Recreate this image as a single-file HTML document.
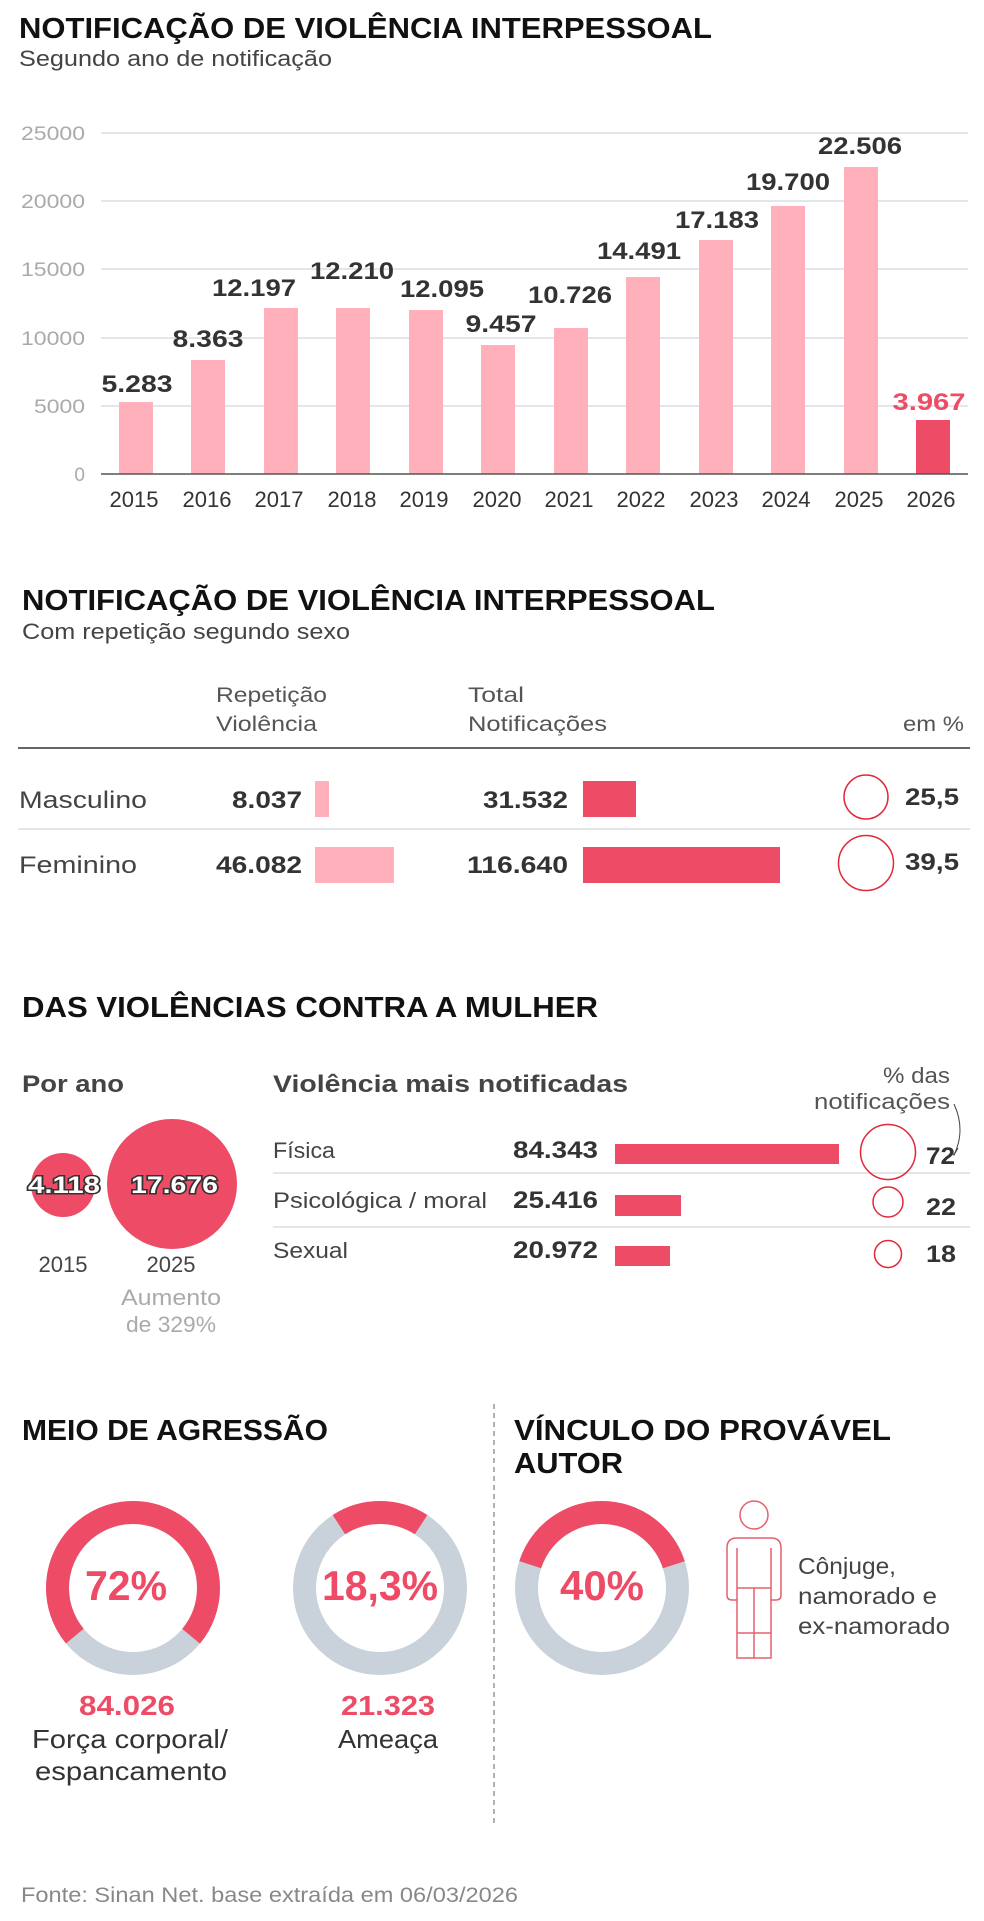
<!DOCTYPE html>
<html><head><meta charset="utf-8"><style>
html,body{margin:0;padding:0;background:#fff;}
svg{display:block;}
text{font-family:"Liberation Sans",sans-serif;}
.t{font-weight:bold;fill:#111;font-size:29px;}
.s{fill:#444;font-size:22px;}
.y{fill:#aaa;font-size:19px;text-anchor:end;}
.yr{fill:#333;font-size:22px;text-anchor:middle;}
.v{fill:#333;font-size:24px;font-weight:bold;text-anchor:middle;}
.b{fill:#333;font-weight:bold;font-size:24px;}
.r{fill:#444;font-size:24px;}
</style></head><body>
<svg width="984" height="1921" viewBox="0 0 984 1921" xmlns="http://www.w3.org/2000/svg">
<!-- Chart 1 -->
<text class="t" x="19" y="38" textLength="693" lengthAdjust="spacingAndGlyphs">NOTIFICAÇÃO DE VIOLÊNCIA INTERPESSOAL</text>
<text class="s" x="19" y="66" textLength="313" lengthAdjust="spacingAndGlyphs">Segundo ano de notificação</text>
<g stroke="#dcdfe3" stroke-width="1.5">
<line x1="101" y1="133" x2="968" y2="133"/><line x1="101" y1="201" x2="968" y2="201"/>
<line x1="101" y1="269" x2="968" y2="269"/><line x1="101" y1="338" x2="968" y2="338"/>
<line x1="101" y1="406" x2="968" y2="406"/>
</g>
<g>
<text class="y" x="85" y="140" textLength="64" lengthAdjust="spacingAndGlyphs">25000</text>
<text class="y" x="85" y="208" textLength="64" lengthAdjust="spacingAndGlyphs">20000</text>
<text class="y" x="85" y="276" textLength="64" lengthAdjust="spacingAndGlyphs">15000</text>
<text class="y" x="85" y="345" textLength="64" lengthAdjust="spacingAndGlyphs">10000</text>
<text class="y" x="85" y="413" textLength="51" lengthAdjust="spacingAndGlyphs">5000</text>
<text class="y" x="85" y="481">0</text>
</g>
<g fill="#ffb0bb">
<rect x="119" y="402" width="34" height="72"/>
<rect x="191" y="360" width="34" height="114"/>
<rect x="264" y="308" width="34" height="166"/>
<rect x="336" y="308" width="34" height="166"/>
<rect x="409" y="310" width="34" height="164"/>
<rect x="481" y="345" width="34" height="129"/>
<rect x="554" y="328" width="34" height="146"/>
<rect x="626" y="277" width="34" height="197"/>
<rect x="699" y="240" width="34" height="234"/>
<rect x="771" y="206" width="34" height="268"/>
<rect x="844" y="167" width="34" height="307"/>
</g>
<rect x="916" y="420" width="34" height="54" fill="#ee4b66"/>
<line x1="101" y1="474" x2="968" y2="474" stroke="#555" stroke-width="1.5"/>
<g>
<text class="v" x="137" y="392" textLength="71" lengthAdjust="spacingAndGlyphs">5.283</text>
<text class="v" x="208" y="347" textLength="71" lengthAdjust="spacingAndGlyphs">8.363</text>
<text class="v" x="254" y="296" textLength="84" lengthAdjust="spacingAndGlyphs">12.197</text>
<text class="v" x="352" y="279" textLength="84" lengthAdjust="spacingAndGlyphs">12.210</text>
<text class="v" x="442" y="297" textLength="84" lengthAdjust="spacingAndGlyphs">12.095</text>
<text class="v" x="501" y="332" textLength="71" lengthAdjust="spacingAndGlyphs">9.457</text>
<text class="v" x="570" y="303" textLength="84" lengthAdjust="spacingAndGlyphs">10.726</text>
<text class="v" x="639" y="259" textLength="84" lengthAdjust="spacingAndGlyphs">14.491</text>
<text class="v" x="717" y="228" textLength="84" lengthAdjust="spacingAndGlyphs">17.183</text>
<text class="v" x="788" y="190" textLength="84" lengthAdjust="spacingAndGlyphs">19.700</text>
<text class="v" x="860" y="154" textLength="84" lengthAdjust="spacingAndGlyphs">22.506</text>
<text class="v" x="929" y="410" textLength="73" lengthAdjust="spacingAndGlyphs" style="fill:#ee4b66">3.967</text>
</g>
<g>
<text class="yr" x="134" y="507">2015</text><text class="yr" x="207" y="507">2016</text>
<text class="yr" x="279" y="507">2017</text><text class="yr" x="352" y="507">2018</text>
<text class="yr" x="424" y="507">2019</text><text class="yr" x="497" y="507">2020</text>
<text class="yr" x="569" y="507">2021</text><text class="yr" x="641" y="507">2022</text>
<text class="yr" x="714" y="507">2023</text><text class="yr" x="786" y="507">2024</text>
<text class="yr" x="859" y="507">2025</text><text class="yr" x="931" y="507">2026</text>
</g>

<!-- Section 2 -->
<text class="t" x="22" y="610" textLength="693" lengthAdjust="spacingAndGlyphs">NOTIFICAÇÃO DE VIOLÊNCIA INTERPESSOAL</text>
<text class="s" x="22" y="639" textLength="328" lengthAdjust="spacingAndGlyphs">Com repetição segundo sexo</text>
<g class="s" style="font-size:21px;fill:#555">
<text x="216" y="702" textLength="111" lengthAdjust="spacingAndGlyphs">Repetição</text>
<text x="216" y="731" textLength="101" lengthAdjust="spacingAndGlyphs">Violência</text>
<text x="468" y="702" textLength="56" lengthAdjust="spacingAndGlyphs">Total</text>
<text x="468" y="731" textLength="139" lengthAdjust="spacingAndGlyphs">Notificações</text>
<text x="903" y="731" textLength="61" lengthAdjust="spacingAndGlyphs">em %</text>
</g>
<line x1="18" y1="748" x2="970" y2="748" stroke="#666" stroke-width="2"/>
<line x1="18" y1="829" x2="970" y2="829" stroke="#dcdfe3" stroke-width="1.5"/>
<text class="r" x="19" y="808" textLength="128" lengthAdjust="spacingAndGlyphs">Masculino</text>
<text class="b" x="232" y="808" textLength="70" lengthAdjust="spacingAndGlyphs">8.037</text>
<rect x="315" y="781" width="14" height="36" fill="#ffb0bb"/>
<text class="b" x="483" y="808" textLength="85" lengthAdjust="spacingAndGlyphs">31.532</text>
<rect x="583" y="781" width="53" height="36" fill="#ee4b66"/>
<circle cx="866" cy="797" r="22" fill="none" stroke="#e02a3a" stroke-width="1.5"/>
<text class="b" x="905" y="805" textLength="54" lengthAdjust="spacingAndGlyphs">25,5</text>
<text class="r" x="19" y="873" textLength="118" lengthAdjust="spacingAndGlyphs">Feminino</text>
<text class="b" x="216" y="873" textLength="86" lengthAdjust="spacingAndGlyphs">46.082</text>
<rect x="315" y="847" width="79" height="36" fill="#ffb0bb"/>
<text class="b" x="467" y="873" textLength="101" lengthAdjust="spacingAndGlyphs">116.640</text>
<rect x="583" y="847" width="197" height="36" fill="#ee4b66"/>
<circle cx="866" cy="863" r="27.5" fill="none" stroke="#e02a3a" stroke-width="1.5"/>
<text class="b" x="905" y="870" textLength="54" lengthAdjust="spacingAndGlyphs">39,5</text>

<!-- Section 3 -->
<text class="t" x="22" y="1017" textLength="576" lengthAdjust="spacingAndGlyphs">DAS VIOLÊNCIAS CONTRA A MULHER</text>
<text class="b" x="22" y="1092" textLength="102" lengthAdjust="spacingAndGlyphs" style="fill:#444">Por ano</text>
<text class="b" x="273" y="1092" textLength="355" lengthAdjust="spacingAndGlyphs" style="fill:#444">Violência mais notificadas</text>
<text class="s" x="883" y="1083" textLength="67" lengthAdjust="spacingAndGlyphs" style="fill:#555">% das</text>
<text class="s" x="814" y="1109" textLength="136" lengthAdjust="spacingAndGlyphs" style="fill:#555">notificações</text>
<path d="M954 1104 Q966 1130 954 1155" fill="none" stroke="#444" stroke-width="1"/>
<path d="M949 1149 L954 1155 L958 1148" fill="none" stroke="#444" stroke-width="1"/>
<circle cx="63" cy="1185" r="32" fill="#ee4b66"/>
<circle cx="172" cy="1184" r="65" fill="#ee4b66"/>
<g style="font-weight:bold;font-size:24px;fill:#fff;stroke:#333;stroke-width:3;paint-order:stroke;">
<text x="28" y="1193" textLength="72" lengthAdjust="spacingAndGlyphs">4.118</text>
<text x="131" y="1193" textLength="87" lengthAdjust="spacingAndGlyphs">17.676</text>
</g>
<text class="yr" x="63" y="1272" style="fill:#444">2015</text>
<text class="yr" x="171" y="1272" style="fill:#444">2025</text>
<text class="yr" x="171" y="1305" style="fill:#aaa" textLength="100" lengthAdjust="spacingAndGlyphs">Aumento</text>
<text class="yr" x="171" y="1332" style="fill:#aaa" textLength="90" lengthAdjust="spacingAndGlyphs">de 329%</text>
<line x1="273" y1="1173" x2="970" y2="1173" stroke="#dcdfe3" stroke-width="1.5"/>
<line x1="273" y1="1227" x2="970" y2="1227" stroke="#dcdfe3" stroke-width="1.5"/>
<g class="s" style="fill:#444">
<text x="273" y="1158" textLength="62" lengthAdjust="spacingAndGlyphs">Física</text>
<text x="273" y="1208" textLength="214" lengthAdjust="spacingAndGlyphs">Psicológica / moral</text>
<text x="273" y="1258" textLength="75" lengthAdjust="spacingAndGlyphs">Sexual</text>
</g>
<text class="b" x="513" y="1158" textLength="85" lengthAdjust="spacingAndGlyphs">84.343</text>
<text class="b" x="513" y="1208" textLength="85" lengthAdjust="spacingAndGlyphs">25.416</text>
<text class="b" x="513" y="1258" textLength="85" lengthAdjust="spacingAndGlyphs">20.972</text>
<rect x="615" y="1144" width="224" height="20" fill="#ee4b66"/>
<rect x="615" y="1195" width="66" height="21" fill="#ee4b66"/>
<rect x="615" y="1246" width="55" height="20" fill="#ee4b66"/>
<circle cx="888" cy="1152" r="27.5" fill="none" stroke="#e02a3a" stroke-width="1.5"/>
<circle cx="888" cy="1202" r="15" fill="none" stroke="#e02a3a" stroke-width="1.5"/>
<circle cx="888" cy="1254" r="13.5" fill="none" stroke="#e02a3a" stroke-width="1.5"/>
<text class="b" x="926" y="1164" textLength="29" lengthAdjust="spacingAndGlyphs">72</text>
<text class="b" x="926" y="1215" textLength="30" lengthAdjust="spacingAndGlyphs">22</text>
<text class="b" x="926" y="1262" textLength="30" lengthAdjust="spacingAndGlyphs">18</text>

<!-- Section 4 -->
<line x1="494" y1="1404" x2="494" y2="1825" stroke="#999" stroke-width="1.5" stroke-dasharray="5,4"/>
<text class="t" x="22" y="1440" textLength="306" lengthAdjust="spacingAndGlyphs">MEIO DE AGRESSÃO</text>
<text class="t" x="514" y="1440" textLength="377" lengthAdjust="spacingAndGlyphs">VÍNCULO DO PROVÁVEL</text>
<text class="t" x="514" y="1473" textLength="109" lengthAdjust="spacingAndGlyphs">AUTOR</text>
<!-- donuts: C = 474.38 -->
<g fill="none" stroke-width="23">
<circle cx="133" cy="1588" r="75.5" stroke="#c9d2da"/>
<circle cx="133" cy="1588" r="75.5" stroke="#ee4b66" stroke-dasharray="341.55 474.38" transform="rotate(-219.6 133 1588)"/>
<circle cx="380" cy="1588" r="75.5" stroke="#c9d2da"/>
<circle cx="380" cy="1588" r="75.5" stroke="#ee4b66" stroke-dasharray="86.81 474.38" transform="rotate(-122.94 380 1588)"/>
<circle cx="602" cy="1588" r="75.5" stroke="#c9d2da"/>
<circle cx="602" cy="1588" r="75.5" stroke="#ee4b66" stroke-dasharray="189.75 474.38" transform="rotate(-162 602 1588)"/>
</g>
<g style="font-weight:bold;font-size:42px;fill:#ee4b66;text-anchor:middle">
<text x="126" y="1600" textLength="82" lengthAdjust="spacingAndGlyphs">72%</text>
<text x="380" y="1600" textLength="116" lengthAdjust="spacingAndGlyphs">18,3%</text>
<text x="602" y="1600" textLength="84" lengthAdjust="spacingAndGlyphs">40%</text>
</g>
<g style="font-weight:bold;font-size:28px;fill:#ee4b66;text-anchor:middle">
<text x="127" y="1715" textLength="96" lengthAdjust="spacingAndGlyphs">84.026</text>
<text x="388" y="1715" textLength="94" lengthAdjust="spacingAndGlyphs">21.323</text>
</g>
<g style="font-size:26px;fill:#333;text-anchor:middle">
<text x="130" y="1748" textLength="196" lengthAdjust="spacingAndGlyphs">Força corporal/</text>
<text x="131" y="1780" textLength="192" lengthAdjust="spacingAndGlyphs">espancamento</text>
<text x="388" y="1748" textLength="100" lengthAdjust="spacingAndGlyphs">Ameaça</text>
</g>
<g fill="none" stroke="#e5606f" stroke-width="1.5">
<circle cx="754" cy="1515" r="14"/>
<path d="M737 1538 H771 Q781 1538 781 1548 V1595 Q781 1600 776 1600 H771 V1658 H737 V1600 H732 Q727 1600 727 1595 V1548 Q727 1538 737 1538 Z"/>
<line x1="737" y1="1548" x2="737" y2="1600"/>
<line x1="771" y1="1548" x2="771" y2="1600"/>
<line x1="737" y1="1588" x2="771" y2="1588"/>
<line x1="754" y1="1588" x2="754" y2="1658"/>
<line x1="737" y1="1633" x2="771" y2="1633"/>
</g>
<g class="s" style="fill:#444;font-size:23px">
<text x="798" y="1574" textLength="98" lengthAdjust="spacingAndGlyphs">Cônjuge,</text>
<text x="798" y="1604" textLength="139" lengthAdjust="spacingAndGlyphs">namorado e</text>
<text x="798" y="1634" textLength="152" lengthAdjust="spacingAndGlyphs">ex-namorado</text>
</g>
<text x="21" y="1902" style="fill:#888;font-size:21px" textLength="497" lengthAdjust="spacingAndGlyphs">Fonte: Sinan Net. base extraída em 06/03/2026</text>
</svg>
</body></html>
